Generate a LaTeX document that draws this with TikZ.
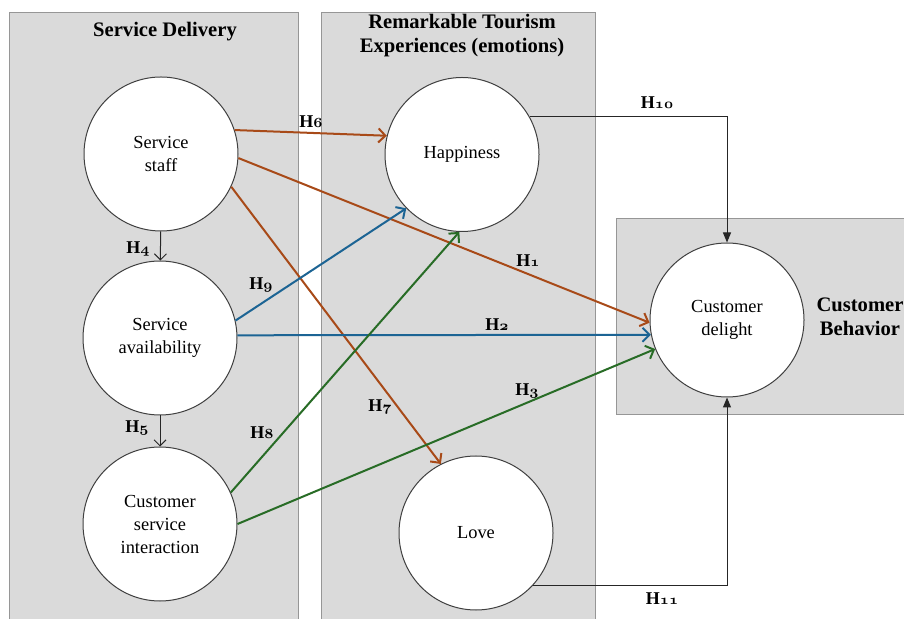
\documentclass[tikz,border=0pt]{standalone}
\usepackage{fontspec}
\setmainfont{Liberation Serif}
\usetikzlibrary{arrows.meta, positioning}
\definecolor{panelFill}{RGB}{218,218,218}
\definecolor{panelLine}{RGB}{150,150,150}
\definecolor{lineStaff}{RGB}{168,74,24}
\definecolor{lineAvail}{RGB}{28,100,148}
\definecolor{lineInter}{RGB}{40,108,38}
\newcommand{\hyp}[1]{\textbf{H}{\fontsize{7.5}{8}\usefont{OML}{cmm}{b}{it}#1}}

\begin{document}
\begin{tikzpicture}[x=0.5pt, y=-0.5pt,
    construct/.style={circle, draw=black!75, line width=0.5pt, fill=white, minimum size=77pt, inner sep=0pt, align=center, font=\fontsize{9.2}{11.5}\selectfont},
    paneltitle/.style={font=\fontsize{10.3}{12}\selectfont\bfseries, align=center},
    hlabel/.style={font=\fontsize{9}{10}\selectfont, inner sep=1pt},
    colarrow/.style={line width=1pt, -{Straight Barb[length=3.5pt, width=7pt]}},
    thinarrow/.style={line width=0.5pt, black!85, -{Straight Barb[length=3pt, width=6pt]}},
    pathArrow/.style={line width=0.5pt, black!85, -{Triangle[length=5pt, width=4pt]}}]
    \fill[white] (0,0) rectangle (904,619);
    \useasboundingbox (0,0) rectangle (904,619);
    \fill[panelFill] (9.5,12.5) rectangle (298.5,619);
    \draw[panelLine] (9.5,619) |- (298.5,12.5) -- (298.5,619);
    \fill[panelFill] (321,12.5) rectangle (595.5,619);
    \draw[panelLine] (321,619) |- (595.5,12.5) -- (595.5,619);
    \fill[panelFill] (616.5,218.5) rectangle (904,414.5);
    \draw[panelLine] (904,218.5) -| (616.5,414.5) -- (904,414.5);

    \node[paneltitle] (tDelivery) at (165,32) {Service Delivery};
    \node[paneltitle] (tTourism) at (462,36) {Remarkable Tourism\\Experiences (emotions)};
    \node[paneltitle] (tBehavior) at (860,317) {Customer\\Behavior};

    \node[construct] (staff) at (161,154) {Service\\staff};
    \node[construct] (avail) at (160,338) {Service\\availability};
    \node[construct] (inter) at (160,524) {Customer\\service\\interaction};
    \node[construct] (happy) at (462,154.5) {Happiness};
    \node[construct] (love) at (476,533) {Love};
    \node[construct] (delight) at (727,320) {Customer\\delight};

    \draw[thinarrow] (staff) -- (avail);
    \draw[thinarrow] (avail) -- (inter);
    \draw[colarrow, lineStaff] (staff.18) -- (happy.166);
    \draw[colarrow, lineStaff] (staff.357) -- (delight.182);
    \draw[colarrow, lineStaff] (staff.335) -- (love.117);
    \draw[colarrow, lineAvail] (avail.13) -- (happy.224);
    \draw[colarrow, lineAvail] (avail.2) -- (delight.191);
    \draw[colarrow, lineInter] (inter.24) -- (happy.268);
    \draw[colarrow, lineInter] (inter.0) -- (delight.202);
    \draw[pathArrow] (happy.29) -| (delight.north);
    \draw[pathArrow] (love.317) -| (delight.south);

    \foreach \x/\y/\n in {311/122/6, 138/249/4, 261/285/9, 528/261/1, 657/103/10,
        137/428/5, 262/433/8, 497/325/2, 380/407/7, 527/391/3, 662/599/11} {
        \node[hlabel] (lab\n) at (\x,\y) {\hyp{\n}};
    }
\end{tikzpicture}
\end{document}
